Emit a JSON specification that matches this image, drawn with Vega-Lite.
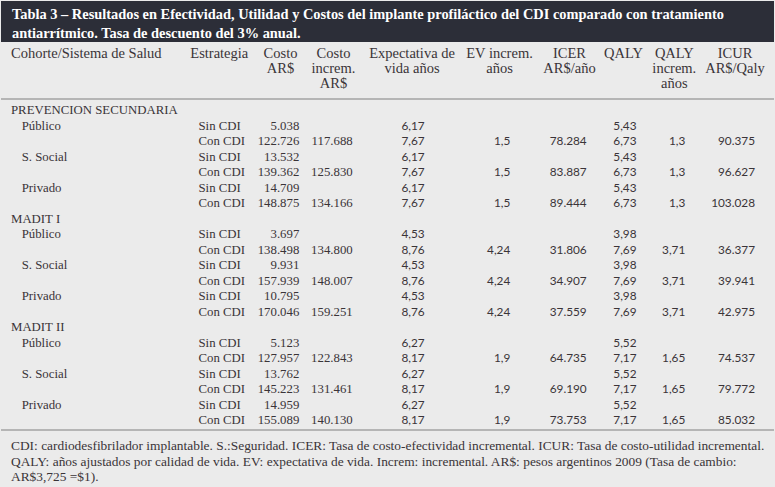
{
  "$schema": "https://vega.github.io/schema/vega-lite/v6.json",
  "width": 775,
  "height": 487,
  "padding": 0,
  "autosize": {"type": "fit", "contains": "padding"},
  "background": "#ebebeb",
  "config": {"view": {"stroke": null}},
  "datasets": {
    "title": [
      {"ln": 0, "c": 0, "t": "Tabla 3 – Resultados en Efectividad, Utilidad y Costos del implante profiláctico del CDI comparado con tratamiento"},
      {"ln": 1, "c": 0, "t": "antiarrítmico. Tasa de descuento del 3% anual."}
    ],
    "header": [
      {"ln": 2, "c": 0, "t": "Cohorte/Sistema de Salud"},
      {"ln": 2, "c": 2, "t": "Estrategia"},
      {"ln": 2, "c": 3, "t": "Costo"},
      {"ln": 3, "c": 3, "t": "AR$"},
      {"ln": 2, "c": 4, "t": "Costo"},
      {"ln": 3, "c": 4, "t": "increm."},
      {"ln": 4, "c": 4, "t": "AR$"},
      {"ln": 2, "c": 5, "t": "Expectativa de"},
      {"ln": 3, "c": 5, "t": "vida años"},
      {"ln": 2, "c": 6, "t": "EV increm."},
      {"ln": 3, "c": 6, "t": "años"},
      {"ln": 2, "c": 7, "t": "ICER"},
      {"ln": 3, "c": 7, "t": "AR$/año"},
      {"ln": 2, "c": 8, "t": "QALY"},
      {"ln": 2, "c": 9, "t": "QALY"},
      {"ln": 3, "c": 9, "t": "increm."},
      {"ln": 4, "c": 9, "t": "años"},
      {"ln": 2, "c": 10, "t": "ICUR"},
      {"ln": 3, "c": 10, "t": "AR$/Qaly"}
    ],
    "footer": [
      {"ln": 26, "c": 0, "t": "CDI: cardiodesfibrilador implantable. S.:Seguridad. ICER: Tasa de costo-efectividad incremental. ICUR: Tasa de costo-utilidad incremental."},
      {"ln": 27, "c": 0, "t": "QALY: años ajustados por calidad de vida. EV: expectativa de vida. Increm: incremental. AR$: pesos argentinos 2009 (Tasa de cambio:"},
      {"ln": 28, "c": 0, "t": "AR$3,725 =$1)."}
    ],
    "cells": [
      {"ln": 5, "c": 0, "t": "PREVENCION SECUNDARIA"},
      {"ln": 6, "c": 1, "t": "Público"}, {"ln": 6, "c": 2, "t": "Sin CDI"}, {"ln": 6, "c": 3, "t": "5.038"}, {"ln": 6, "c": 5, "t": "6,17"}, {"ln": 6, "c": 8, "t": "5,43"},
      {"ln": 7, "c": 2, "t": "Con CDI"}, {"ln": 7, "c": 3, "t": "122.726"}, {"ln": 7, "c": 4, "t": "117.688"}, {"ln": 7, "c": 5, "t": "7,67"}, {"ln": 7, "c": 6, "t": "1,5"}, {"ln": 7, "c": 7, "t": "78.284"}, {"ln": 7, "c": 8, "t": "6,73"}, {"ln": 7, "c": 9, "t": "1,3"}, {"ln": 7, "c": 10, "t": "90.375"},
      {"ln": 8, "c": 1, "t": "S. Social"}, {"ln": 8, "c": 2, "t": "Sin CDI"}, {"ln": 8, "c": 3, "t": "13.532"}, {"ln": 8, "c": 5, "t": "6,17"}, {"ln": 8, "c": 8, "t": "5,43"},
      {"ln": 9, "c": 2, "t": "Con CDI"}, {"ln": 9, "c": 3, "t": "139.362"}, {"ln": 9, "c": 4, "t": "125.830"}, {"ln": 9, "c": 5, "t": "7,67"}, {"ln": 9, "c": 6, "t": "1,5"}, {"ln": 9, "c": 7, "t": "83.887"}, {"ln": 9, "c": 8, "t": "6,73"}, {"ln": 9, "c": 9, "t": "1,3"}, {"ln": 9, "c": 10, "t": "96.627"},
      {"ln": 10, "c": 1, "t": "Privado"}, {"ln": 10, "c": 2, "t": "Sin CDI"}, {"ln": 10, "c": 3, "t": "14.709"}, {"ln": 10, "c": 5, "t": "6,17"}, {"ln": 10, "c": 8, "t": "5,43"},
      {"ln": 11, "c": 2, "t": "Con CDI"}, {"ln": 11, "c": 3, "t": "148.875"}, {"ln": 11, "c": 4, "t": "134.166"}, {"ln": 11, "c": 5, "t": "7,67"}, {"ln": 11, "c": 6, "t": "1,5"}, {"ln": 11, "c": 7, "t": "89.444"}, {"ln": 11, "c": 8, "t": "6,73"}, {"ln": 11, "c": 9, "t": "1,3"}, {"ln": 11, "c": 10, "t": "103.028"},
      {"ln": 12, "c": 0, "t": "MADIT I"},
      {"ln": 13, "c": 1, "t": "Público"}, {"ln": 13, "c": 2, "t": "Sin CDI"}, {"ln": 13, "c": 3, "t": "3.697"}, {"ln": 13, "c": 5, "t": "4,53"}, {"ln": 13, "c": 8, "t": "3,98"},
      {"ln": 14, "c": 2, "t": "Con CDI"}, {"ln": 14, "c": 3, "t": "138.498"}, {"ln": 14, "c": 4, "t": "134.800"}, {"ln": 14, "c": 5, "t": "8,76"}, {"ln": 14, "c": 6, "t": "4,24"}, {"ln": 14, "c": 7, "t": "31.806"}, {"ln": 14, "c": 8, "t": "7,69"}, {"ln": 14, "c": 9, "t": "3,71"}, {"ln": 14, "c": 10, "t": "36.377"},
      {"ln": 15, "c": 1, "t": "S. Social"}, {"ln": 15, "c": 2, "t": "Sin CDI"}, {"ln": 15, "c": 3, "t": "9.931"}, {"ln": 15, "c": 5, "t": "4,53"}, {"ln": 15, "c": 8, "t": "3,98"},
      {"ln": 16, "c": 2, "t": "Con CDI"}, {"ln": 16, "c": 3, "t": "157.939"}, {"ln": 16, "c": 4, "t": "148.007"}, {"ln": 16, "c": 5, "t": "8,76"}, {"ln": 16, "c": 6, "t": "4,24"}, {"ln": 16, "c": 7, "t": "34.907"}, {"ln": 16, "c": 8, "t": "7,69"}, {"ln": 16, "c": 9, "t": "3,71"}, {"ln": 16, "c": 10, "t": "39.941"},
      {"ln": 17, "c": 1, "t": "Privado"}, {"ln": 17, "c": 2, "t": "Sin CDI"}, {"ln": 17, "c": 3, "t": "10.795"}, {"ln": 17, "c": 5, "t": "4,53"}, {"ln": 17, "c": 8, "t": "3,98"},
      {"ln": 18, "c": 2, "t": "Con CDI"}, {"ln": 18, "c": 3, "t": "170.046"}, {"ln": 18, "c": 4, "t": "159.251"}, {"ln": 18, "c": 5, "t": "8,76"}, {"ln": 18, "c": 6, "t": "4,24"}, {"ln": 18, "c": 7, "t": "37.559"}, {"ln": 18, "c": 8, "t": "7,69"}, {"ln": 18, "c": 9, "t": "3,71"}, {"ln": 18, "c": 10, "t": "42.975"},
      {"ln": 19, "c": 0, "t": "MADIT II"},
      {"ln": 20, "c": 1, "t": "Público"}, {"ln": 20, "c": 2, "t": "Sin CDI"}, {"ln": 20, "c": 3, "t": "5.123"}, {"ln": 20, "c": 5, "t": "6,27"}, {"ln": 20, "c": 8, "t": "5,52"},
      {"ln": 21, "c": 2, "t": "Con CDI"}, {"ln": 21, "c": 3, "t": "127.957"}, {"ln": 21, "c": 4, "t": "122.843"}, {"ln": 21, "c": 5, "t": "8,17"}, {"ln": 21, "c": 6, "t": "1,9"}, {"ln": 21, "c": 7, "t": "64.735"}, {"ln": 21, "c": 8, "t": "7,17"}, {"ln": 21, "c": 9, "t": "1,65"}, {"ln": 21, "c": 10, "t": "74.537"},
      {"ln": 22, "c": 1, "t": "S. Social"}, {"ln": 22, "c": 2, "t": "Sin CDI"}, {"ln": 22, "c": 3, "t": "13.762"}, {"ln": 22, "c": 5, "t": "6,27"}, {"ln": 22, "c": 8, "t": "5,52"},
      {"ln": 23, "c": 2, "t": "Con CDI"}, {"ln": 23, "c": 3, "t": "145.223"}, {"ln": 23, "c": 4, "t": "131.461"}, {"ln": 23, "c": 5, "t": "8,17"}, {"ln": 23, "c": 6, "t": "1,9"}, {"ln": 23, "c": 7, "t": "69.190"}, {"ln": 23, "c": 8, "t": "7,17"}, {"ln": 23, "c": 9, "t": "1,65"}, {"ln": 23, "c": 10, "t": "79.772"},
      {"ln": 24, "c": 1, "t": "Privado"}, {"ln": 24, "c": 2, "t": "Sin CDI"}, {"ln": 24, "c": 3, "t": "14.959"}, {"ln": 24, "c": 5, "t": "6,27"}, {"ln": 24, "c": 8, "t": "5,52"},
      {"ln": 25, "c": 2, "t": "Con CDI"}, {"ln": 25, "c": 3, "t": "155.089"}, {"ln": 25, "c": 4, "t": "140.130"}, {"ln": 25, "c": 5, "t": "8,17"}, {"ln": 25, "c": 6, "t": "1,9"}, {"ln": 25, "c": 7, "t": "73.753"}, {"ln": 25, "c": 8, "t": "7,17"}, {"ln": 25, "c": 9, "t": "1,65"}, {"ln": 25, "c": 10, "t": "85.032"}
    ]
  },
  "resolve": {"scale": {"x": "independent"}},
  "layer": [
    {
      "data": {"values": [{}]},
      "mark": {"type": "rect", "color": "#2c2e38"},
      "encoding": {
        "y": {"datum": -0.74, "type": "quantitative", "scale": {"domain": [0, 1, 2, 4, 5, 25, 26, 28], "range": [14, 33, 53, 83, 109, 419, 445, 476], "zero": false, "nice": false}, "axis": null},
        "y2": {"datum": 1.4}
      }
    },
    {
      "data": {"values": [{}]},
      "mark": {"type": "rule", "color": "#a3a3a3", "strokeWidth": 1.5},
      "encoding": {"y": {"datum": 4.577, "type": "quantitative", "axis": null}}
    },
    {
      "data": {"values": [{}]},
      "mark": {"type": "rule", "color": "#a3a3a3", "strokeWidth": 1.5},
      "encoding": {"y": {"datum": 25.385, "type": "quantitative", "axis": null}}
    },
    {
      "data": {"name": "title"},
      "mark": {"type": "text", "align": "left", "baseline": "middle", "font": "Liberation Serif", "fontSize": 14.4, "fontWeight": "bold", "color": "#ffffff"},
      "encoding": {
        "x": {"field": "c", "type": "quantitative", "scale": {"domain": [0, 1], "range": [11, 100], "zero": false, "nice": false}, "axis": null},
        "y": {"field": "ln", "type": "quantitative", "axis": null},
        "text": {"field": "t"}
      }
    },
    {
      "data": {"name": "header"},
      "transform": [{"filter": {"field": "c", "oneOf": [0, 2]}}],
      "mark": {"type": "text", "align": "left", "baseline": "middle", "font": "Liberation Serif", "fontSize": 14.5, "color": "#3a3438"},
      "encoding": {
        "x": {"field": "c", "type": "quantitative", "scale": {"domain": [0, 2], "range": [10, 189.3], "zero": false, "nice": false}, "axis": null},
        "y": {"field": "ln", "type": "quantitative", "axis": null},
        "text": {"field": "t"}
      }
    },
    {
      "data": {"name": "header"},
      "transform": [{"filter": {"field": "c", "gte": 3}}],
      "mark": {"type": "text", "align": "center", "baseline": "middle", "font": "Liberation Serif", "fontSize": 14.5, "color": "#3a3438"},
      "encoding": {
        "x": {"field": "c", "type": "quantitative", "scale": {"domain": [3, 4, 5, 6, 7, 8, 9, 10], "range": [279.5, 332.5, 411, 498.5, 568.5, 622.5, 673.3, 734], "zero": false, "nice": false}, "axis": null},
        "y": {"field": "ln", "type": "quantitative", "axis": null},
        "text": {"field": "t"}
      }
    },
    {
      "data": {"name": "cells"},
      "transform": [{"filter": {"field": "c", "oneOf": [0, 1, 2]}}],
      "mark": {"type": "text", "align": "left", "baseline": "middle", "font": "Liberation Serif", "fontSize": 12.8, "color": "#3a3438"},
      "encoding": {
        "x": {"field": "c", "type": "quantitative", "scale": {"domain": [0, 1, 2], "range": [10, 20.7, 197.5], "zero": false, "nice": false}, "axis": null},
        "y": {"field": "ln", "type": "quantitative", "axis": null},
        "text": {"field": "t"}
      }
    },
    {
      "data": {"name": "cells"},
      "transform": [{"filter": {"field": "c", "oneOf": [3, 4]}}],
      "mark": {"type": "text", "align": "right", "baseline": "middle", "font": "Liberation Serif", "fontSize": 12.8, "color": "#3a3438"},
      "encoding": {
        "x": {"field": "c", "type": "quantitative", "scale": {"domain": [3, 4], "range": [298.3, 351.7], "zero": false, "nice": false}, "axis": null},
        "y": {"field": "ln", "type": "quantitative", "axis": null},
        "text": {"field": "t"}
      }
    },
    {
      "data": {"name": "cells"},
      "transform": [{"filter": {"field": "c", "oneOf": [5, 8]}}],
      "mark": {"type": "text", "align": "left", "baseline": "middle", "font": "Lato", "fontSize": 11.8, "color": "#3a3438"},
      "encoding": {
        "x": {"field": "c", "type": "quantitative", "scale": {"domain": [5, 8], "range": [400.5, 612.3], "zero": false, "nice": false}, "axis": null},
        "y": {"field": "ln", "type": "quantitative", "axis": null},
        "text": {"field": "t"}
      }
    },
    {
      "data": {"name": "cells"},
      "transform": [{"filter": {"field": "c", "oneOf": [6, 7, 9, 10]}}],
      "mark": {"type": "text", "align": "right", "baseline": "middle", "font": "Lato", "fontSize": 11.8, "color": "#3a3438"},
      "encoding": {
        "x": {"field": "c", "type": "quantitative", "scale": {"domain": [6, 7, 9, 10], "range": [509.3, 585.7, 684.3, 754], "zero": false, "nice": false}, "axis": null},
        "y": {"field": "ln", "type": "quantitative", "axis": null},
        "text": {"field": "t"}
      }
    },
    {
      "data": {"name": "footer"},
      "mark": {"type": "text", "align": "left", "baseline": "middle", "font": "Liberation Serif", "fontSize": 13.4, "color": "#3a3438"},
      "encoding": {
        "x": {"field": "c", "type": "quantitative", "scale": {"domain": [0, 1], "range": [10, 100], "zero": false, "nice": false}, "axis": null},
        "y": {"field": "ln", "type": "quantitative", "axis": null},
        "text": {"field": "t"}
      }
    }
  ]
}
